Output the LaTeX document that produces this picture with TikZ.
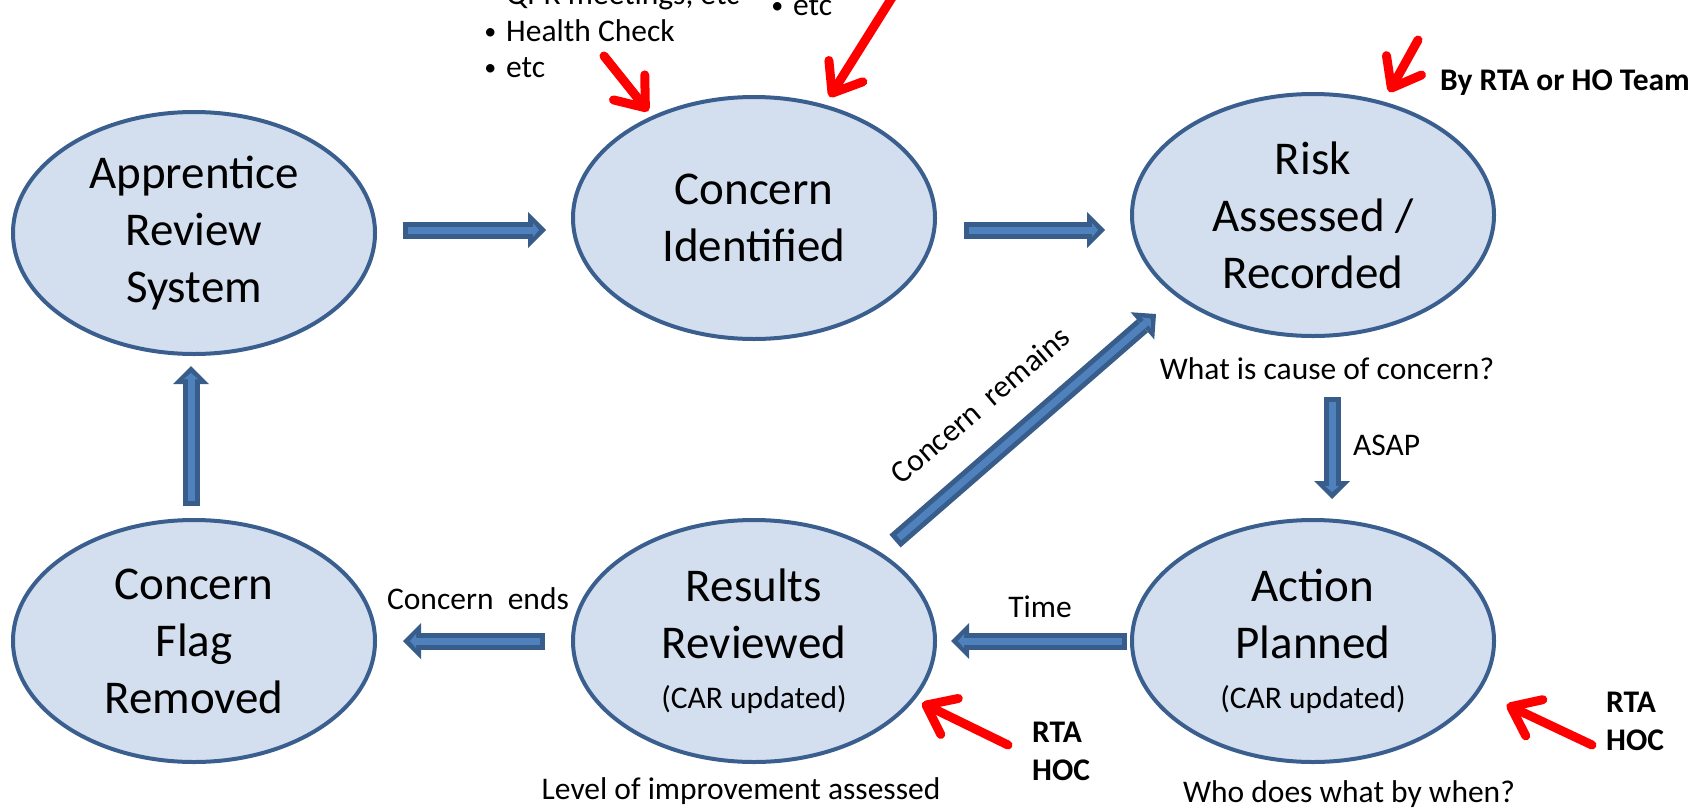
\documentclass[tikz,border=0pt]{standalone}
\usepackage{fontspec}
\setmainfont{Carlito}
\usetikzlibrary{shapes.geometric,arrows.meta,calc}
\definecolor{efill}{HTML}{D3DFEE}
\definecolor{edark}{HTML}{3A5F8E}
\definecolor{bfill}{HTML}{4F81BD}
\definecolor{bdark}{HTML}{385D8A}
\tikzset{
  state/.style={ellipse, draw=edark, fill=efill, line width=4pt,
    minimum width=362pt, minimum height=242pt, inner sep=0pt, align=center,
    font=\fontsize{47}{57}\selectfont},
  lab/.style={font=\fontsize{31.5}{38}\selectfont, inner sep=0pt},
  blab/.style={font=\fontsize{31.5}{38}\selectfont\bfseries, inner sep=0pt},
  redarr/.style={draw=red, line width=9pt, line cap=round,
    -{Straight Barb[length=26pt,width=40pt,round]}},
  bout/.style={draw=bdark, line width=17pt,
    -{Triangle[length=18pt,width=36pt,line width=0pt]}},
  bin/.style={draw=bfill, line width=7pt, shorten <=5pt, shorten >=7pt,
    -{Triangle[length=6pt,width=14pt,line width=0pt]}},
}
\newcommand\blockarrow[2]{\draw[bout] #1 -- #2; \draw[bin] #1 -- #2;}
\newcommand\bul{\llap{\raisebox{2pt}{\fontsize{24}{30}\selectfont •}\hspace{10pt}}}
\begin{document}
\begin{tikzpicture}[x=1pt,y=-1pt]
\path[use as bounding box] (0,0) rectangle (1699,809);
\clip (0,0) rectangle (1699,809);

% states
\node[state] (ar) at (194,233) {Apprentice\\Review\\System};
\node[state] (ci) at (754,218) {Concern\\Identified};
\node[state] (ra) at (1313,215) {Risk\\Assessed /\\Recorded};
\node[state] (cf) at (194,641) {Concern\\Flag\\Removed};
\node[state] (rr) at (754,641) {Results\\Reviewed\\[-7pt]{\fontsize{31.5}{38}\selectfont(CAR updated)}};
\node[state] (ap) at (1313,641) {Action\\Planned\\[-7pt]{\fontsize{31.5}{38}\selectfont(CAR updated)}};

% block arrows
\blockarrow{($(ar.center)+(209,-3)$)}{($(ci.center)+(-208,12)$)}
\blockarrow{($(ci.center)+(210,12)$)}{($(ra.center)+(-208,15)$)}
\blockarrow{($(ra.center)+(19,182)$)}{($(ap.center)+(19,-142)$)}
\blockarrow{($(ap.center)+(-186,0)$)}{($(rr.center)+(197,0)$)}
\blockarrow{($(rr.center)+(-209,0)$)}{($(cf.center)+(209,0)$)}
\blockarrow{($(cf.center)+(-3,-135)$)}{($(ar.center)+(-3,133)$)}
\blockarrow{($(rr.center)+(141,-100)$)}{($(ra.center)+(-157,99)$)}

% labels
\node[lab, rotate=40.4] (lcr) at (980,405) {Concern\ \ remains};
\node[lab, anchor=west] (lasap) at (1353,445) {ASAP};
\node[lab] (ltime) at (1040,607) {Time};
\node[lab] (lends) at (478,599) {Concern\ \ ends};
\node[lab] (llevel) at (741,791) {Level of improvement assessed};
\node[lab] (lwho) at (1349,794) {Who does what by when?};
\node[lab] (lwhat) at (1327,369) {What is cause of concern?};

\node[blab, anchor=base west] (lby) at (1440,90) {By RTA or HO Team};
\node[blab, anchor=base west] (rta1) at (1032,742) {RTA};
\node[blab, anchor=base west] (hoc1) at (1032,780) {HOC};
\node[blab, anchor=base west] (rta2) at (1606,712) {RTA};
\node[blab, anchor=base west] (hoc2) at (1606,750) {HOC};

% bullet lists
\node[lab, anchor=base west] (li1) at (506,4) {\bul QPR meetings, etc};
\node[lab, anchor=base west] (li2) at (506,41) {\bul Health Check};
\node[lab, anchor=base west] (li3) at (506,77) {\bul etc};
\node[lab, anchor=base west] (li4) at (793,15) {\bul etc};

% red pointers
\coordinate (t1) at (604,56);
\coordinate (t2) at (893,-4);
\coordinate (t3) at (1418,40);
\coordinate (t4) at (1008,745);
\coordinate (t6) at (1592,745);
\draw[redarr, shorten >=6pt] (t1) -- (ci.135);
\draw[redarr, shorten >=9pt] (t2) -- (ci.58);
\draw[redarr, shorten >=11pt] (t3) -- (ra.58);
\draw[redarr, shorten >=8pt] (t4) -- (rr.-20);
\draw[redarr, shorten >=30pt] (t6) -- (ap.-17.5);
\end{tikzpicture}
\end{document}
